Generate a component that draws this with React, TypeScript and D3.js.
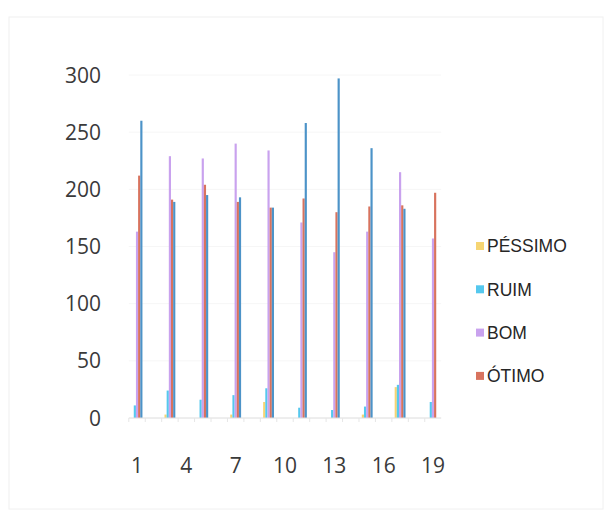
import React from "react";
import * as d3 from "d3";

const categories = Array.from({ length: 19 }, (_, i) => String(i + 1));
const xTickLabels = ["1", "4", "7", "10", "13", "16", "19"];
const yTicks = [0, 50, 100, 150, 200, 250, 300];

const legendNames = ["PÉSSIMO", "RUIM", "BOM", "ÓTIMO"];

// values per category 1..19 (null = empty category)
const pessimo = [0, null, 3, null, 0, null, 3, null, 14, null, 0, null, 0, null, 3, null, 27, null, 0];
const ruim = [11, null, 24, null, 16, null, 20, null, 26, null, 9, null, 7, null, 10, null, 29, null, 14];
const bom = [163, null, 229, null, 227, null, 240, null, 234, null, 171, null, 145, null, 163, null, 215, null, 157];
const otimo = [212, null, 191, null, 204, null, 189, null, 184, null, 192, null, 180, null, 185, null, 186, null, 197];
const extra = [260, null, 189, null, 195, null, 193, null, 184, null, 258, null, 297, null, 236, null, 183, null, 0];

const seriesKeys = ["pessimo", "ruim", "bom", "otimo", "extra"];
const seriesData = [pessimo, ruim, bom, otimo, extra];
const colors = ["#F6D573", "#55C8EE", "#C9A2EE", "#D8735E", "#4C93C8"];

export default function App() {
  const W = 611, H = 514;
  const left = 128.8, right = 441.2, top = 75, bottom = 418;
  const x = d3.scaleBand<string>().domain(categories).range([left, right]).padding(0);
  const bw = x.bandwidth();
  const inner = d3.scaleBand<string>().domain(seriesKeys).range([bw * 0.17, bw * 0.83]).padding(0);
  const y = d3.scaleLinear().domain([0, 300]).range([bottom, top]);

  return (
    <svg width={W} height={H} style={{ position: "absolute", left: 0, top: 0, background: "#fff" }}>
      <rect x={9} y={17} width={594} height={492} fill="none" stroke="#f0f0f0" strokeWidth={1} />
      {yTicks.map((t) => (
        <g key={t}>
          {t > 0 && <line x1={left} x2={right} y1={y(t)} y2={y(t)} stroke="#f6f6f6" strokeWidth={1} />}
          <text x={101} y={y(t)} dy="0.36em" textAnchor="end" fontFamily="'Open Sans', Lato, sans-serif" fontSize={21} fill="#3a3a3a">
            {t}
          </text>
        </g>
      ))}
      {seriesData.map((arr, si) =>
        arr.map((v, ci) => {
          if (v === null || v === 0) return null;
          const cx = (x(categories[ci]) as number) + (inner(seriesKeys[si]) as number);
          return (
            <rect key={si + "-" + ci} x={cx} y={y(v)} width={inner.bandwidth()} height={y(0) - y(v)} fill={colors[si]} />
          );
        })
      )}
      <line x1={left} x2={right} y1={bottom} y2={bottom} stroke="#dcdcdc" strokeWidth={1} />
      {categories.map((c) => (
        <line key={c} x1={x(c) as number} x2={x(c) as number} y1={bottom} y2={bottom + 4} stroke="#e6e6e6" />
      ))}
      {xTickLabels.map((c) => (
        <text key={c} x={(x(c) as number) + bw / 2} y={465} dy="0.36em" textAnchor="middle" fontFamily="'Open Sans', Lato, sans-serif" fontSize={21} fill="#3a3a3a">
          {c}
        </text>
      ))}
      {legendNames.map((n, i) => {
        const ly = 246 + i * 43.3;
        return (
          <g key={n}>
            <rect x={476} y={ly - 4} width={8} height={8} fill={colors[i]} />
            <text x={487} y={ly} dy="0.36em" fontFamily="'Liberation Sans', Arial, sans-serif" fontSize={17.5} fill="#262626">
              {n}
            </text>
          </g>
        );
      })}
    </svg>
  );
}
